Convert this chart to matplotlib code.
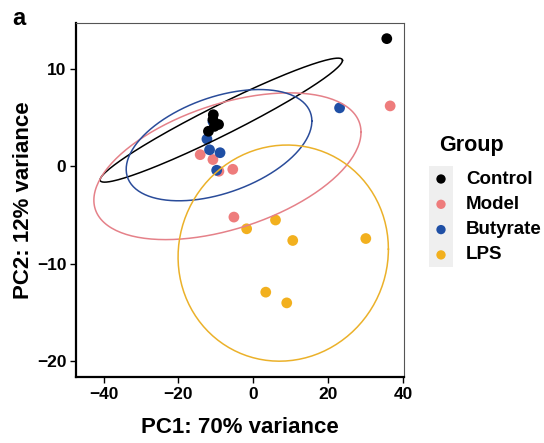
import numpy as np
import matplotlib.pyplot as plt
from matplotlib.patches import Rectangle

plt.rcParams['font.family'] = ['Liberation Sans', 'DejaVu Sans']
plt.rcParams['font.weight'] = 'bold'

groups = ['Control', 'Model', 'Butyrate', 'LPS']
colors = ['#000000', '#EE7C7C', '#1F4FA5', '#F2B01E']
ell_colors = ['#000000', '#E58189', '#2A4C9A', '#EBB12A']

# PCA scores
pc1 = {
    'Control': [35.6, -10.7, -10.8, -9.3, -12.0, -10.4],
    'Model': [36.5, -14.2, -10.8, -5.5, -5.2, -9.2],
    'Butyrate': [23.0, -12.4, -11.7, -8.9, -9.8, -10.8],
    'LPS': [-1.8, 5.9, 10.5, 30.0, 3.3, 8.9],
}
pc2 = {
    'Control': [13.1, 5.3, 4.8, 4.3, 3.6, 4.1],
    'Model': [6.2, 1.2, 0.7, -0.3, -5.2, -0.5],
    'Butyrate': [6.0, 2.8, 1.7, 1.4, -0.4, 4.6],
    'LPS': [-6.4, -5.5, -7.6, -7.4, -12.9, -14.0],
}
draw_order = ['Model', 'LPS', 'Butyrate', 'Control']


def cov_trob(x, nu=5, tol=1e-4, maxit=25):
    # same iteration as MASS::cov.trob, used by ggplot's stat_ellipse
    n, p = x.shape
    loc = x.mean(axis=0)
    w = np.ones(n)
    for _ in range(maxit):
        w0 = w
        X = x - loc
        _, d, vt = np.linalg.svd(np.sqrt(w / w.sum())[:, None] * X, full_matrices=False)
        wX = X @ vt.T @ np.diag(1 / d)
        Q = (wX ** 2).sum(axis=1)
        w = (nu + p) / (nu + Q)
        loc = (w[:, None] * x).sum(axis=0) / w.sum()
        if np.all(np.abs(w - w0) < tol):
            break
    sX = np.sqrt(w)[:, None] * X
    return loc, sX.T @ sX / n


def ellipse_pts(x, level=0.95, segments=200):
    n = x.shape[0]
    loc, cov = cov_trob(x)
    d = n - 1
    qf = d / 2 * ((1 - level) ** (-2 / d) - 1)
    radius = np.sqrt(2 * qf)
    t = np.linspace(0, 2 * np.pi, segments)
    circ = np.column_stack([np.cos(t), np.sin(t)])
    L = np.linalg.cholesky(cov)
    return loc + radius * circ @ L.T


fig = plt.figure(figsize=(5.44, 4.43), dpi=100)
ax = fig.add_axes([0.140, 0.149, 0.602, 0.799])

for g in draw_order:
    i = groups.index(g)
    ax.scatter(pc1[g], pc2[g], s=60, color=colors[i], edgecolors='none', zorder=2)

for i, g in enumerate(groups):
    e = ellipse_pts(np.column_stack([pc1[g], pc2[g]]))
    ax.plot(e[:, 0], e[:, 1], color=ell_colors[i], lw=1.1, zorder=3)

ax.set_xlim(-47.3, 40.1)
ax.set_ylim(-21.6, 14.7)
ax.set_xticks([-40, -20, 0, 20, 40])
ax.set_yticks([-20, -10, 0, 10])
ax.set_xticklabels(['\u221240', '\u221220', '0', '20', '40'])
ax.set_yticklabels(['\u221220', '\u221210', '0', '10'])
ax.tick_params(labelsize=12.5, width=1.0, length=4, colors='black', pad=3)
for lab in ax.get_xticklabels() + ax.get_yticklabels():
    lab.set_fontweight('bold')
ax.set_xlabel('PC1: 70% variance', fontsize=16, fontweight='bold', labelpad=11)
ax.set_ylabel('PC2: 12% variance', fontsize=16, fontweight='bold', labelpad=2)
for side in ['left', 'bottom']:
    ax.spines[side].set_linewidth(1.6)
    ax.spines[side].set_color('black')
for side in ['top', 'right']:
    ax.spines[side].set_linewidth(0.8)
    ax.spines[side].set_color('#555555')

fig.text(0.022, 0.985, 'a', fontsize=17, fontweight='bold', va='top', ha='left')

# legend
lax = fig.add_axes([0, 0, 1, 1], facecolor='none')
lax.set_xlim(0, 544)
lax.set_ylim(443, 0)
lax.axis('off')
lax.add_patch(Rectangle((429, 166), 24, 101, facecolor='#EFEFEF', edgecolor='none'))
lax.text(439, 146, 'Group', fontsize=15.5, fontweight='bold', va='center', ha='left')
for i, g in enumerate(groups):
    yy = 179 + i * 25.3
    lax.scatter([441], [yy], s=45, color=colors[i], edgecolors='none')
    lax.text(466, yy, g, fontsize=13.5, fontweight='bold', va='center', ha='left')

fig.savefig('out.png', dpi=100)
